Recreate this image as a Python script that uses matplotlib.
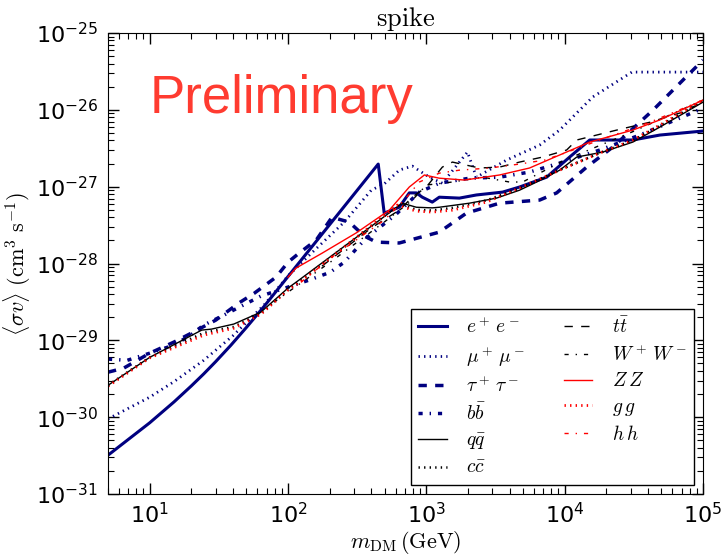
import matplotlib
matplotlib.use("Agg")
import matplotlib.pyplot as plt

plt.rcParams['mathtext.fontset'] = 'dejavusans'
plt.rcParams['axes.unicode_minus'] = False
plt.rcParams['lines.scale_dashes'] = False
plt.rcParams['lines.dashed_pattern'] = [6, 6]
plt.rcParams['lines.dashdot_pattern'] = [3, 5, 1, 5]
plt.rcParams['lines.dotted_pattern'] = [1, 3]

NAVY = '#000080'
RED = '#ff0000'

# annihilation channels, <sigma v> in cm^3/s vs m_DM in GeV
ee_m = [5, 10, 15, 20, 24.6, 30, 38.6, 50, 67, 100, 449, 496, 637, 753, 847, 935,
        1104, 1241, 1733, 2300, 3560, 4720, 7410, 10860, 15170, 31100, 48800, 1e5]
ee_sv = [3.2e-31, 8.44e-31, 1.58e-30, 2.55e-30, 3.66e-30, 5.28e-30, 8.62e-30, 1.47e-29,
         2.75e-29, 6.77e-29, 1.97e-27, 4.53e-28, 5.4e-28, 8.3e-28, 8.3e-28, 7.3e-28,
         6.3e-28, 7.3e-28, 7.1e-28, 7.8e-28, 8.5e-28, 9.9e-28, 1.33e-27, 2.43e-27, 4.05e-27,
         4.05e-27, 4.7e-27, 5.3e-27]

mumu_m = [5, 10, 15, 24.6, 40, 67, 100, 150, 255, 400, 500, 640, 792, 1052, 1306, 1983,
          2303, 3802, 6590, 9200, 15950, 30600, 1e5]
mumu_sv = [0.95e-30, 1.82e-30, 2.9e-30, 5.5e-30, 1.15e-29, 2.87e-29, 6.9e-29, 1.4e-28,
           3.46e-28, 9.0e-28, 1.1e-27, 1.65e-27, 1.85e-27, 1.33e-27, 1.11e-27, 2.82e-27,
           1.33e-27, 2.22e-27, 3.48e-27, 5.46e-27, 1.47e-26, 3.1e-26, 3.1e-26]

tautau_m = [5, 6.5, 10, 15, 20, 30, 44, 57, 82, 100, 120, 160, 208, 277, 356, 434, 637,
            1241, 1950, 3383, 6590, 8750, 14430, 22280, 43450, 71610, 1e5]
tautau_sv = [3.85e-30, 4.35e-30, 6.8e-30, 9.5e-30, 1.24e-29, 1.83e-29, 3.05e-29, 4.1e-29,
             6.65e-29, 1.04e-28, 1.36e-28, 2.02e-28, 4.0e-28, 3.46e-28, 2.28e-28, 1.9e-28,
             1.85e-28, 2.56e-28, 4.53e-28, 6.1e-28, 6.7e-28, 8.3e-28, 1.8e-27, 3.28e-27,
             9.9e-27, 2.44e-26, 4.45e-26]

bb_m = [5, 6.9, 10, 14.9, 19.8, 24.6, 34.4, 63.7, 100, 142, 202, 255, 367, 596, 890,
        1241, 2050, 3383, 5571, 9200, 17940, 34940, 1e5]
bb_sv = [5.7e-30, 5.5e-30, 6.8e-30, 8.65e-30, 1.17e-29, 1.58e-29, 2.13e-29, 3.77e-29,
         4.93e-29, 6.08e-29, 7.7e-29, 1.04e-28, 2.14e-28, 4.27e-28, 8.5e-28,
         1.11e-27, 1.29e-27, 1.33e-27, 1.55e-27, 2.03e-27, 3.0e-27, 4.7e-27, 1.05e-26]

qq_m = [5, 10, 23.8, 28, 40.6, 63.7, 100, 120, 670, 847, 1104, 1241, 2050, 3215, 4716,
        6270, 9200, 12220, 18850, 31120, 48780, 1e5]
qq_sv = [2.6e-30, 6.0e-30, 1.36e-29, 1.4e-29, 1.63e-29, 2.33e-29, 4.79e-29, 6.08e-29,
         6.1e-28, 5.4e-28, 5.3e-28, 5.4e-28, 6.1e-28, 7.1e-28, 9.0e-28,
         1.15e-27, 1.64e-27, 2.43e-27, 2.82e-27, 3.81e-27, 5.97e-27, 1.26e-26]

cc_m = [5, 10, 24.6, 40.6, 63.7, 100, 120, 640, 850, 1100, 1550, 2700, 4716, 9200,
        17940, 31120, 48780, 1e5]
cc_sv = [2.6e-30, 6.0e-30, 1.25e-29, 1.5e-29, 2.25e-29, 4.6e-29, 5.8e-29, 5.9e-28, 5.0e-28,
         4.9e-28, 5.3e-28, 6.6e-28, 9.5e-28, 1.65e-27, 2.75e-27, 4.0e-27, 6.2e-27, 1.3e-26]

tt_m = [176, 399, 637, 792, 1000, 1306, 1543, 2422, 3383, 4716, 6930, 10330, 12220,
        23820, 41300, 68080, 1e5]
tt_sv = [9.25e-29, 2.89e-28, 4.95e-28, 7.3e-28, 9.9e-28, 1.8e-27, 2.09e-27, 1.75e-27,
         1.8e-27, 2.09e-27, 2.43e-27, 3.0e-27, 4.05e-27, 5.46e-27, 6.9e-27, 9.1e-27, 1.26e-26]

ww_m = [79, 202, 496, 792, 1000, 1543, 2547, 3990, 4966, 10000, 30620, 1e5]
ww_sv = [3.14e-29, 1.04e-28, 3.46e-28, 6.7e-28, 1.05e-27, 1.15e-27, 1.33e-27, 1.15e-27,
         1.15e-27, 2.22e-27, 5.14e-27, 1.34e-26]

zz_m = [100, 114, 176, 311, 540, 753, 968, 1241, 1885, 3383, 5571, 8180, 15170, 31120,
        48780, 1e5]
zz_sv = [6.65e-29, 8.7e-29, 1.36e-28, 2.5e-28, 4.95e-28, 9.9e-28, 1.42e-27, 1.29e-27,
         1.22e-27, 1.42e-27, 1.75e-27, 2.36e-27, 3.81e-27, 5.46e-27, 7.4e-27, 1.34e-26]

gg_m = [5, 10, 24.6, 40.6, 63.7, 100, 120, 617, 847, 1104, 1543, 2723, 4716, 9200,
        17940, 31120, 48780, 1e5]
gg_sv = [2.53e-30, 5.9e-30, 1.17e-29, 1.44e-29, 2.19e-29, 4.51e-29, 5.6e-29, 5.75e-28,
         4.8e-28, 4.67e-28, 4.95e-28, 6.3e-28, 9.6e-28, 1.64e-27, 2.74e-27, 4.05e-27,
         6.34e-27, 1.34e-26]

hh_m = [124, 202, 311, 496, 693, 890, 1241, 1733, 2864, 4716, 7160, 10000, 17940, 41300, 1e5]
hh_sv = [5.7e-29, 1.17e-28, 2.02e-28, 3.67e-28, 6.7e-28, 1.15e-27, 1.5e-27, 1.64e-27,
         1.75e-27, 1.97e-27, 2.22e-27, 2.74e-27, 4.05e-27, 6.9e-27, 1.34e-26]

fig = plt.figure(figsize=(7.22, 5.55), dpi=100)
ax = fig.add_axes([0.1496, 0.1099, 0.8241, 0.8306])

l_ee, = ax.plot(ee_m, ee_sv, color=NAVY, lw=2.2, ls='-', label=r'$e^+\,e^-$')
l_mu, = ax.plot(mumu_m, mumu_sv, color=NAVY, lw=2.0, ls=':', label=r'$\mu^+\,\mu^-$')
l_tau, = ax.plot(tautau_m, tautau_sv, color=NAVY, lw=2.5, ls='--', label=r'$\tau^+\,\tau^-$')
l_bb, = ax.plot(bb_m, bb_sv, color=NAVY, lw=2.5, ls='-.', label=r'$b\bar{b}$')
l_qq, = ax.plot(qq_m, qq_sv, color='k', lw=1.0, ls='-', label=r'$q\bar{q}$')
l_cc, = ax.plot(cc_m, cc_sv, color='k', lw=1.8, ls=':', label=r'$c\bar{c}$')
l_tt, = ax.plot(tt_m, tt_sv, color='k', lw=1.0, ls='--', label=r'$t\bar{t}$')
l_ww, = ax.plot(ww_m, ww_sv, color='k', lw=1.0, ls='-.', label=r'$W^+\,W^-$')
l_zz, = ax.plot(zz_m, zz_sv, color=RED, lw=1.0, ls='-', label=r'$Z\,Z$')
l_gg, = ax.plot(gg_m, gg_sv, color=RED, lw=2.0, ls=':', label=r'$g\,g$')
l_hh, = ax.plot(hh_m, hh_sv, color=RED, lw=1.0, ls='-.', label=r'$h\,h$')

ax.set_xscale('log')
ax.set_yscale('log')
ax.set_xlim(5, 1e5)
ax.set_ylim(1e-31, 1e-25)

ax.tick_params(which='both', direction='in', top=True, right=True, labelsize=16)
ax.tick_params(which='major', length=8, width=1)
ax.tick_params(which='minor', length=4, width=0.8)
ax.tick_params(axis='x', pad=6)
ax.tick_params(axis='y', pad=7)

ax.set_title(r'$\mathrm{spike}$', fontsize=19, math_fontfamily='cm', pad=5)
ax.set_xlabel(r'$m_{\rm DM}\,(\mathrm{GeV})$', fontsize=16, math_fontfamily='cm', labelpad=1)
ax.set_ylabel(r'$\langle\sigma v\rangle\ (\mathrm{cm}^3\ \mathrm{s}^{-1})$', fontsize=16,
              math_fontfamily='cm', labelpad=2)

ax.text(0.0706, 0.826, 'Preliminary', transform=ax.transAxes, color='#ff3b30',
        fontsize=38, family='Liberation Sans')

handles = [l_ee, l_mu, l_tau, l_bb, l_qq, l_cc, l_tt, l_ww, l_zz, l_gg, l_hh]
leg = ax.legend(handles=handles, ncol=2, loc='lower right', fontsize=14,
                frameon=True, fancybox=False, edgecolor='k', framealpha=1,
                handlelength=1.45, handletextpad=1.0, columnspacing=2.0,
                labelspacing=0.35, borderaxespad=0.45)
leg.get_frame().set_linewidth(1.0)
for t in leg.get_texts():
    t.set_math_fontfamily('cm')

fig.savefig('out.png', dpi=100)
